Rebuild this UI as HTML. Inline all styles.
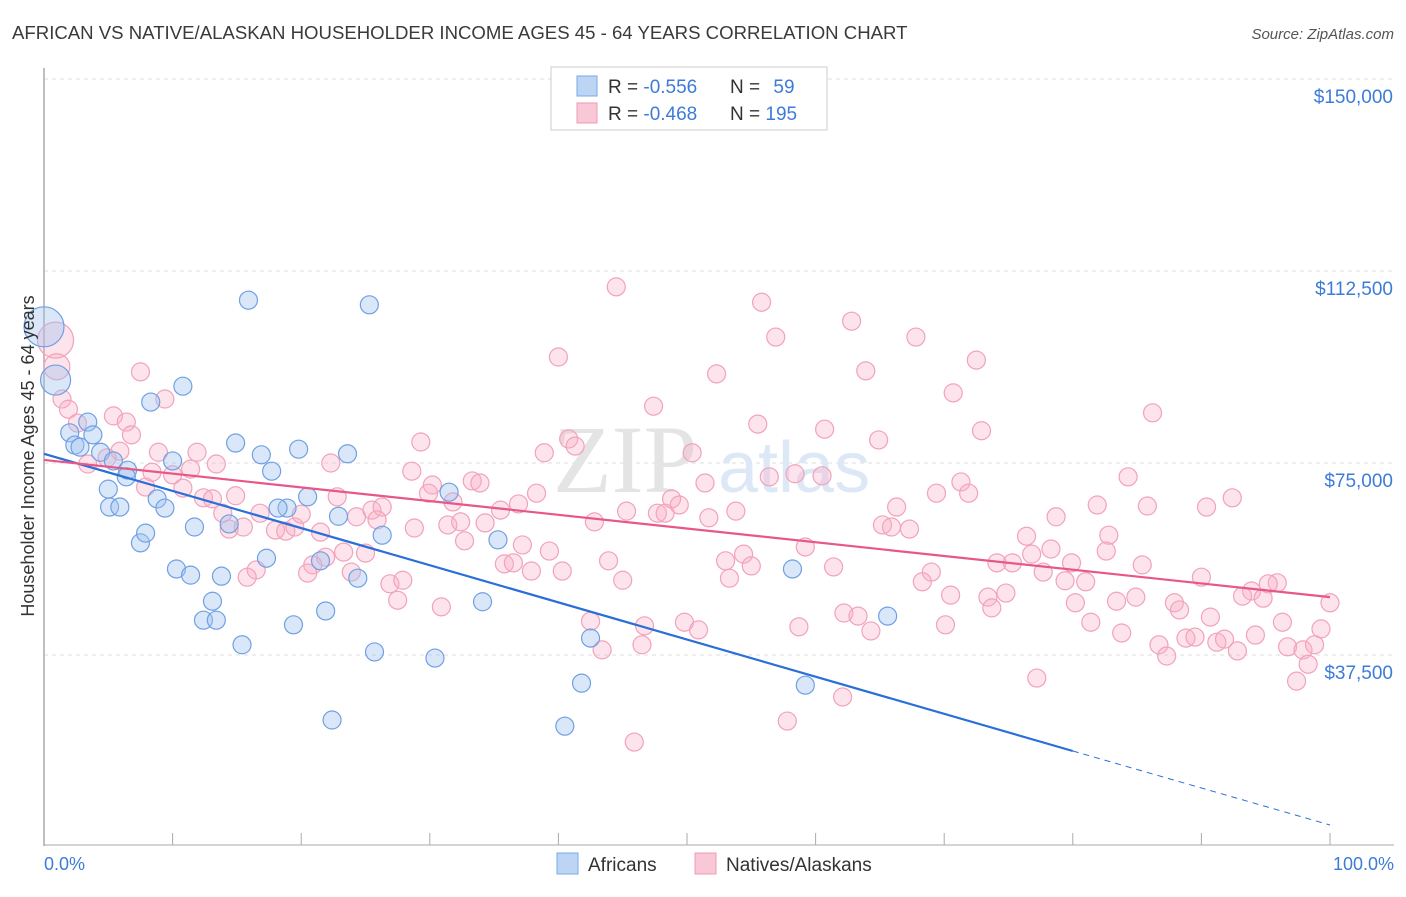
<!DOCTYPE html>
<html><head><meta charset="utf-8"><style>
body{margin:0;background:#fff;font-family:"Liberation Sans",sans-serif}
svg text{font-family:"Liberation Sans",sans-serif}
</style></head><body>
<svg id="chart" width="1406" height="892" xmlns="http://www.w3.org/2000/svg">
<text x="12" y="39" font-size="18.6" fill="#3a3a3a">AFRICAN VS NATIVE/ALASKAN HOUSEHOLDER INCOME AGES 45 - 64 YEARS CORRELATION CHART</text>
<text x="1394" y="39" font-size="15" fill="#555" font-style="italic" text-anchor="end">Source: ZipAtlas.com</text>
<g id="grid"></g>
<text x="553" y="492" font-size="96" fill="#e4e4e4" font-family="Liberation Serif" style="font-family:'Liberation Serif',serif">ZIP</text>
<text x="718" y="492" font-size="72" fill="#dde8f7">atlas</text>
<line x1="44" y1="68" x2="44" y2="846" stroke="#aaa" stroke-width="1.5"/>
<line x1="44" y1="845" x2="1394" y2="845" stroke="#aaa" stroke-width="1"/>
<g id="ticks"></g>
<g id="pts"></g>
<g id="lines"></g>
<text transform="translate(34,456) rotate(-90)" font-size="18" fill="#333" text-anchor="middle">Householder Income Ages 45 - 64 years</text>
<text x="44" y="870" font-size="18" fill="#3d7bd9">0.0%</text>
<text x="1394" y="870" font-size="18" fill="#3d7bd9" text-anchor="end">100.0%</text>
<g>
<rect x="551" y="67" width="276" height="63" fill="#fff" stroke="#ccc"/>
<rect x="577" y="76" width="20" height="20" fill="#bcd5f5" stroke="#7aaae8"/>
<rect x="577" y="103" width="20" height="20" fill="#f9c8d6" stroke="#f09ab4"/>
<text x="608" y="93" font-size="19" fill="#333">R = <tspan fill="#3d7bd9">-0.556</tspan></text>
<text x="730" y="93" font-size="19" fill="#333">N = <tspan fill="#3d7bd9" dx="8">59</tspan></text>
<text x="608" y="120" font-size="19" fill="#333">R = <tspan fill="#3d7bd9">-0.468</tspan></text>
<text x="730" y="120" font-size="19" fill="#333">N = <tspan fill="#3d7bd9">195</tspan></text>
</g>
<g>
<rect x="557" y="853" width="21" height="21" fill="#bcd5f5" stroke="#7aaae8"/>
<text x="588" y="871" font-size="19" fill="#333">Africans</text>
<rect x="695" y="853" width="21" height="21" fill="#f9c8d6" stroke="#f09ab4"/>
<text x="726" y="871" font-size="19" fill="#333">Natives/Alaskans</text>
</g>
</svg>
<script>
const yTicks=[37.5,75,112.5,150];
const yTickLabels=["$37,500","$75,000","$112,500","$150,000"];
const xTicks=[0,10,20,30,40,50,60,70,80,90,100];
const africansX=[0,0.9,3.4,2.0,2.4,3.8,4.4,2.8,5.4,6.5,5.0,6.4,5.1,5.9,7.5,7.9,8.8,9.4,10.0,10.8,8.3,14.9,16.9,17.7,19.8,20.5,18.9,18.2,11.7,14.4,10.3,11.4,13.8,13.1,12.4,13.4,17.3,15.4,19.4,21.9,21.5,22.9,23.6,25.3,15.9,26.3,25.7,24.4,22.4,30.4,31.5,35.3,34.1,42.5,40.5,41.8,58.2,59.2,65.6];
const africansY=[101.6,91.2,83.0,80.9,78.5,80.5,77.1,78.1,75.4,73.6,69.9,72.3,66.4,66.4,59.4,61.3,68.0,66.2,75.4,90.0,86.9,78.9,76.6,73.4,77.7,68.4,66.2,66.2,62.5,63.1,54.3,53.1,52.9,48.0,44.3,44.3,56.4,39.5,43.4,46.1,55.9,64.6,76.8,105.9,106.8,60.9,38.1,52.5,24.8,36.9,69.3,60.0,47.9,40.8,23.6,32.0,54.3,31.6,45.1];
const africansSize=[20,15];
const nativesX=[0.9,1.0,7.5,9.4,1.4,1.9,5.4,6.4,6.8,2.6,5.9,8.9,11.9,13.4,3.4,4.9,8.4,10.0,11.4,7.9,10.8,12.4,13.1,14.9,13.9,14.4,15.5,16.8,18.0,18.8,19.5,20.0,21.5,22.8,22.3,24.3,25.5,26.3,25.9,28.6,29.3,30.2,29.9,31.8,33.3,33.9,28.8,31.4,32.4,32.7,34.3,23.3,25.0,21.9,20.9,20.5,23.9,26.9,27.9,27.5,30.9,16.5,15.8,
44.5,55.8,56.9,62.8,67.8,63.9,52.3,40.0,47.4,55.5,60.7,64.9,38.9,40.8,41.3,50.4,56.4,58.4,60.5,69.4,51.4,38.3,36.9,35.5,45.3,42.8,47.7,48.3,48.8,49.4,51.7,53.8,66.3,65.2,65.9,67.3,59.2,37.2,39.3,35.8,36.5,37.9,40.3,43.9,45.0,53.0,54.4,55.0,53.3,61.4,69.0,68.3,42.5,43.4,46.5,46.7,49.8,50.9,62.2,63.3,64.3,58.7,62.1,57.8,45.9,
72.5,70.7,72.9,86.2,71.3,71.9,84.3,81.9,85.8,90.4,92.4,78.7,76.4,82.8,82.6,76.8,78.3,74.1,75.3,79.9,77.7,79.4,81.0,85.4,90.0,93.9,95.9,95.2,93.2,94.8,100,70.5,73.4,74.8,73.7,80.2,83.4,84.9,87.9,88.3,90.7,81.4,96.3,99.3,70.1,83.8,86.7,87.3,88.8,89.5,91.2,91.8,92.8,94.2,96.7,97.9,98.8,98.3,97.4,77.2];
const nativesY=[99.0,93.8,92.8,87.5,87.5,85.5,84.2,83.0,80.5,82.8,77.3,77.1,77.1,74.8,74.8,76.0,73.2,72.7,73.8,70.3,70.1,68.2,68.0,68.6,65.2,62.1,62.5,65.2,61.9,61.7,62.5,65.0,61.5,68.4,75.0,64.5,65.8,66.4,63.9,73.4,79.1,70.7,69.1,67.4,71.5,71.1,62.3,62.9,63.5,59.8,63.3,57.6,57.4,56.6,55.1,53.5,53.7,51.4,52.1,48.2,46.9,54.1,52.7,
109.4,106.4,99.6,102.7,99.6,93.0,92.4,95.7,86.1,82.6,81.6,79.5,77.0,79.7,78.3,77.0,72.3,72.9,72.5,69.1,71.1,69.1,67.0,65.8,65.6,63.5,65.2,65.2,68.0,66.8,64.3,65.6,66.4,62.9,62.5,62.1,58.6,59.0,57.8,55.3,55.5,53.9,53.9,55.9,52.1,55.9,57.2,54.9,52.5,54.7,53.7,51.8,44.1,38.5,39.5,43.2,43.9,42.4,45.7,45.1,42.2,43.0,29.3,24.6,20.5,
95.1,88.7,81.3,84.8,71.3,69.1,72.3,66.8,66.6,66.4,68.2,64.5,60.7,60.9,57.8,57.2,58.2,55.5,55.5,55.5,53.7,52.0,51.8,55.1,52.7,50.0,51.6,51.4,49.0,48.6,47.7,49.2,48.8,49.6,46.7,47.7,48.0,48.8,47.7,46.3,44.9,43.9,43.9,42.6,43.4,41.8,39.5,37.3,40.8,41.0,40.0,40.6,38.3,41.4,39.1,38.5,39.5,35.7,32.4,33.0];
const nativesSize=[18,13];
const africansTrend=[76.8,18.75,4.3]; // at x=0, 80, 100
const nativesTrend=[75.6,48.8]; // at x=0, 100

const NS="http://www.w3.org/2000/svg";
const X=v=>44+v*12.86;
const Y=v=>847-v*5.12;
function mk(tag,attrs,parent){const e=document.createElementNS(NS,tag);for(const k in attrs)e.setAttribute(k,attrs[k]);parent.appendChild(e);return e;}
const grid=document.getElementById('grid');
yTicks.forEach((t,i)=>{
  const l=mk('line',{x1:44,x2:1394,y1:Y(t),y2:Y(t),stroke:'#ddd','stroke-dasharray':'4,4'},grid);
  
  
  const tx=mk('text',{x:1393,y:Y(t)+24,'font-size':19,fill:'#3d7bd9','text-anchor':'end'},grid);
  tx.textContent=yTickLabels[i];
  
  
});
const ticks=document.getElementById('ticks');
xTicks.forEach(t=>{
  const l=mk('line',{x1:X(t),x2:X(t),y1:833,y2:845,stroke:'#aaa'},ticks);
  
  
});
const pts=document.getElementById('pts');
nativesX.forEach((x,i)=>{
  const c=mk('circle',{cx:X(x),cy:Y(nativesY[i]),r:nativesSize[i]||9,fill:'rgba(248,175,198,0.35)',stroke:'#f2a2bb','stroke-width':1.2},pts);
  
  
});
africansX.forEach((x,i)=>{
  const c=mk('circle',{cx:X(x),cy:Y(africansY[i]),r:africansSize[i]||9,fill:'rgba(160,196,240,0.4)',stroke:'#6fa0e4','stroke-width':1.2},pts);
  
  
});
const lines=document.getElementById('lines');
const b1=mk('line',{x1:X(0),y1:Y(africansTrend[0]),x2:X(80),y2:Y(africansTrend[1]),stroke:'#2a6fd8','stroke-width':2.2},lines);


const b2=mk('line',{x1:X(80),y1:Y(africansTrend[1]),x2:X(100),y2:Y(africansTrend[2]),stroke:'#2a6fd8','stroke-width':1,'stroke-dasharray':'6,5'},lines);


const p1=mk('line',{x1:X(0),y1:Y(nativesTrend[0]),x2:X(100),y2:Y(nativesTrend[1]),stroke:'#e8578a','stroke-width':2.2},lines);


</script>
</body></html>
